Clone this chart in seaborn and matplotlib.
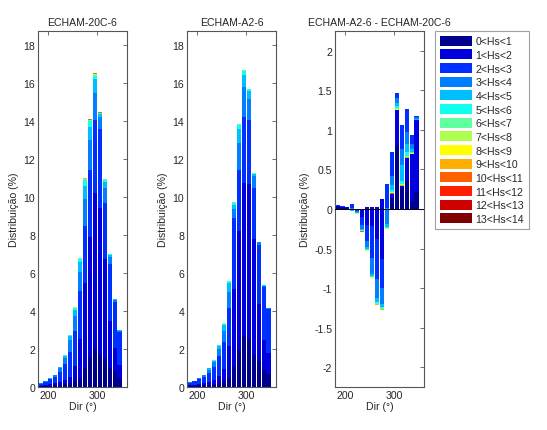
import numpy as np
import pandas as pd
import matplotlib
matplotlib.use("Agg")
import matplotlib.pyplot as plt
from matplotlib.patches import Patch
from matplotlib.ticker import FuncFormatter
import seaborn as sns

# ---------------- data ----------------
dirs = [185, 195, 205, 215, 225, 235, 245, 255, 265, 275, 285, 295, 305, 315, 325, 335, 345]
class_labels = ["0<Hs<1", "1<Hs<2", "2<Hs<3", "3<Hs<4", "4<Hs<5", "5<Hs<6", "6<Hs<7",
                "7<Hs<8", "8<Hs<9", "9<Hs<10", "10<Hs<11", "11<Hs<12", "12<Hs<13", "13<Hs<14"]
titles = ["ECHAM-20C-6", "ECHAM-A2-6", "ECHAM-A2-6 - ECHAM-20C-6"]

# distribution (%) per Hs class (rows) and direction bin (columns)
dist_20c = [
    [0.03, 0.05, 0.07, 0.10, 0.12, 0.15, 0.20, 0.30, 0.45, 1.00, 1.60, 2.00, 1.70, 1.45, 1.00, 0.85, 0.45],
    [0.04, 0.05, 0.07, 0.10, 0.16, 0.20, 0.35, 0.80, 2.10, 4.50, 6.30, 8.20, 7.70, 5.30, 2.50, 1.20, 0.70],
    [0.11, 0.17, 0.26, 0.35, 0.52, 0.85, 1.30, 1.85, 2.50, 3.00, 3.50, 3.85, 4.20, 2.95, 2.95, 2.40, 1.75],
    [0.015, 0.025, 0.04, 0.07, 0.18, 0.35, 0.65, 0.80, 1.00, 1.40, 1.60, 1.45, 0.60, 0.75, 0.40, 0.15, 0.07],
    [0.005, 0.005, 0.01, 0.025, 0.05, 0.10, 0.18, 0.30, 0.55, 0.70, 0.70, 0.70, 0.18, 0.35, 0.10, 0.03, 0.02],
    [0.0, 0.0, 0.0, 0.005, 0.015, 0.03, 0.04, 0.10, 0.14, 0.30, 0.28, 0.18, 0.04, 0.10, 0.03, 0.01, 0.01],
    [0.0, 0.0, 0.0, 0.0, 0.003, 0.01, 0.015, 0.025, 0.03, 0.04, 0.05, 0.05, 0.015, 0.025, 0.01, 0.005, 0.0],
    [0.0, 0.0, 0.0, 0.0, 0.002, 0.005, 0.008, 0.012, 0.015, 0.02, 0.025, 0.03, 0.008, 0.012, 0.005, 0.003, 0.0],
    [0.0, 0.0, 0.0, 0.0, 0.0, 0.003, 0.004, 0.006, 0.008, 0.015, 0.015, 0.02, 0.004, 0.006, 0.003, 0.002, 0.0],
    [0.0, 0.0, 0.0, 0.0, 0.0, 0.002, 0.003, 0.004, 0.004, 0.01, 0.01, 0.015, 0.002, 0.004, 0.002, 0.0, 0.0],
    [0.0, 0.0, 0.0, 0.0, 0.0, 0.0, 0.0, 0.002, 0.002, 0.005, 0.006, 0.008, 0.001, 0.002, 0.0, 0.0, 0.0],
    [0.0, 0.0, 0.0, 0.0, 0.0, 0.0, 0.0, 0.001, 0.001, 0.003, 0.003, 0.004, 0.0, 0.001, 0.0, 0.0, 0.0],
    [0.0, 0.0, 0.0, 0.0, 0.0, 0.0, 0.0, 0.0, 0.0, 0.002, 0.002, 0.003, 0.0, 0.0, 0.0, 0.0, 0.0],
    [0.0, 0.0, 0.0, 0.0, 0.0, 0.0, 0.0, 0.0, 0.0, 0.001, 0.001, 0.002, 0.0, 0.0, 0.0, 0.0, 0.0],
]
dist_a2 = [
    [0.05, 0.06, 0.08, 0.10, 0.12, 0.15, 0.20, 0.30, 0.45, 1.10, 1.95, 2.70, 2.55, 1.70, 1.35, 0.90, 0.70],
    [0.04, 0.05, 0.06, 0.10, 0.14, 0.20, 0.38, 0.65, 1.70, 4.05, 6.25, 8.05, 8.15, 6.10, 3.00, 1.60, 1.10],
    [0.14, 0.19, 0.28, 0.35, 0.49, 0.70, 1.07, 1.40, 2.00, 3.75, 3.20, 3.45, 3.35, 2.65, 3.15, 2.75, 2.30],
    [0.018, 0.025, 0.06, 0.08, 0.17, 0.25, 0.35, 0.60, 0.85, 0.45, 1.45, 1.60, 1.10, 0.65, 0.12, 0.08, 0.04],
    [0.002, 0.005, 0.015, 0.015, 0.06, 0.08, 0.15, 0.30, 0.45, 0.25, 0.75, 0.65, 0.45, 0.10, 0.02, 0.02, 0.01],
    [0.0, 0.0, 0.005, 0.005, 0.015, 0.03, 0.05, 0.07, 0.11, 0.10, 0.20, 0.20, 0.08, 0.03, 0.01, 0.0, 0.0],
    [0.0, 0.0, 0.0, 0.0, 0.003, 0.005, 0.01, 0.015, 0.02, 0.025, 0.025, 0.025, 0.01, 0.01, 0.0, 0.0, 0.0],
    [0.0, 0.0, 0.0, 0.0, 0.002, 0.003, 0.005, 0.008, 0.01, 0.012, 0.012, 0.012, 0.005, 0.005, 0.0, 0.0, 0.0],
    [0.0, 0.0, 0.0, 0.0, 0.0, 0.002, 0.003, 0.004, 0.005, 0.006, 0.006, 0.006, 0.003, 0.003, 0.0, 0.0, 0.0],
    [0.0, 0.0, 0.0, 0.0, 0.0, 0.0, 0.002, 0.003, 0.003, 0.004, 0.004, 0.004, 0.002, 0.002, 0.0, 0.0, 0.0],
    [0.0, 0.0, 0.0, 0.0, 0.0, 0.0, 0.0, 0.0, 0.002, 0.002, 0.002, 0.002, 0.0, 0.0, 0.0, 0.0, 0.0],
    [0.0, 0.0, 0.0, 0.0, 0.0, 0.0, 0.0, 0.0, 0.0, 0.001, 0.001, 0.001, 0.0, 0.0, 0.0, 0.0, 0.0],
    [0.0, 0.0, 0.0, 0.0, 0.0, 0.0, 0.0, 0.0, 0.0, 0.0, 0.0, 0.0, 0.0, 0.0, 0.0, 0.0, 0.0],
    [0.0, 0.0, 0.0, 0.0, 0.0, 0.0, 0.0, 0.0, 0.0, 0.0, 0.0, 0.0, 0.0, 0.0, 0.0, 0.0, 0.0],
]
dist_diff = [
    [0.02, 0.01, 0.01, 0.01, 0.0, 0.0, 0.02, 0.03, 0.02, 0.13, 0.03, 0.14, 0.80, 0.28, 0.35, 0.10, 0.22],
    [0.02, 0.02, 0.02, 0.05, -0.01, -0.10, -0.22, -0.25, -0.40, -0.76, 0.28, 0.58, 0.67, 0.78, 0.92, 0.84, 0.96],
    [0.015, 0.005, 0.0, -0.05, -0.02, -0.10, -0.20, -0.40, -0.50, -0.37, -0.30, -0.30, -0.07, -0.30, -0.30, -0.12, -0.02],
    [0.0, 0.0, 0.0, -0.02, -0.01, -0.05, -0.08, -0.20, -0.25, -0.20, -0.20, -0.12, -0.06, -0.20, -0.15, -0.06, -0.02],
    [0.0, 0.0, 0.0, -0.01, -0.01, -0.015, -0.03, -0.03, -0.05, -0.04, -0.04, -0.06, -0.04, -0.20, -0.10, -0.04, -0.01],
    [0.0, 0.0, 0.0, 0.0, -0.003, -0.005, -0.005, -0.005, -0.01, -0.01, -0.01, -0.02, -0.02, -0.04, -0.05, -0.01, 0.0],
    [0.0, 0.0, 0.0, 0.0, -0.003, -0.005, -0.005, -0.005, -0.006, -0.008, -0.005, -0.008, -0.012, -0.008, -0.008, -0.004, 0.0],
    [0.0, 0.0, 0.0, 0.0, -0.002, -0.003, -0.003, -0.003, -0.004, -0.005, -0.003, -0.005, -0.006, -0.005, -0.005, -0.003, 0.0],
    [0.0, 0.0, 0.0, 0.0, -0.002, -0.003, -0.003, -0.003, -0.004, -0.005, -0.003, -0.005, -0.005, -0.005, -0.005, -0.002, 0.0],
    [0.0, 0.0, 0.0, 0.0, -0.002, -0.003, -0.003, -0.003, -0.004, -0.005, -0.003, -0.005, -0.005, -0.005, -0.005, -0.002, 0.0],
    [0.0, 0.0, 0.0, 0.0, -0.001, -0.002, -0.002, -0.002, -0.002, -0.003, -0.002, -0.003, -0.003, -0.003, -0.003, -0.001, 0.0],
    [0.0, 0.0, 0.0, 0.0, 0.0, -0.001, -0.001, -0.001, -0.001, -0.002, -0.001, -0.002, -0.002, -0.002, -0.002, 0.0, 0.0],
    [0.0, 0.0, 0.0, 0.0, 0.0, 0.0, 0.0, 0.0, 0.0, -0.001, 0.0, -0.001, -0.001, -0.001, -0.001, 0.0, 0.0],
    [0.0, 0.0, 0.0, 0.0, 0.0, 0.0, 0.0, 0.0, 0.0, 0.0, 0.0, 0.0, 0.0, 0.0, 0.0, 0.0, 0.0],
]

# ---------------- style ----------------
sns.set_style("white")
plt.rcParams["font.family"] = ["Liberation Sans", "DejaVu Sans"]
plt.rcParams["font.size"] = 7.6
FS = 7.6
spine_col = "#555555"

# colours as shown in the legend (MATLAB jet(64) sampled at 14 levels)
colors = [(0.0, 0.0, 0.5625), (0.0, 0.0, 0.875), (0.0, 0.1875, 1.0), (0.0, 0.5, 1.0),
          (0.0, 0.75, 1.0), (0.0625, 1.0, 0.9375), (0.375, 1.0, 0.625), (0.6875, 1.0, 0.3125),
          (1.0, 1.0, 0.0), (1.0, 0.6875, 0.0), (1.0, 0.375, 0.0), (1.0, 0.125, 0.0),
          (0.8125, 0.0, 0.0), (0.5, 0.0, 0.0)]

fig = plt.figure(figsize=(5.47, 4.31), dpi=100)
W, H = 547.0, 431.0
ax_lefts = [38, 187, 335]
axes = [fig.add_axes([l / W, (H - 388) / H, 89 / W, 356 / H]) for l in ax_lefts]


def draw_stack(ax, rows):
    cum = np.zeros(len(dirs))
    for k, row in enumerate(rows):
        vals = np.asarray(row, dtype=float)
        df = pd.DataFrame({"dir": dirs, "val": vals})
        sns.barplot(data=df, x="dir", y="val", native_scale=True, color=colors[k],
                    saturation=1, width=0.85, errorbar=None, bottom=cum.copy(),
                    linewidth=0, ax=ax)
        cum = cum + vals


fmt = FuncFormatter(lambda v, p: "%g" % v)
for i, (ax, data) in enumerate(zip(axes, [dist_20c, dist_a2, dist_diff])):
    draw_stack(ax, data)
    ax.set_xlim(180, 360)
    ax.set_xticks([200, 300])
    if i < 2:
        ax.set_ylim(0, 18.74)
        ax.set_yticks(np.arange(0, 19, 2))
    else:
        ax.set_ylim(-2.25, 2.25)
        ax.set_yticks(np.arange(-2, 2.01, 0.5))
        ax.axhline(0, color="black", lw=0.7, zorder=5)
    ax.yaxis.set_major_formatter(fmt)
    ax.set_title(titles[i], fontsize=FS, pad=4)
    ax.set_xlabel("Dir (°)", fontsize=FS, labelpad=1)
    ax.set_ylabel("Distribuição (%)", fontsize=FS, labelpad=3)
    ax.tick_params(direction="in", top=True, right=True, length=3, width=0.6,
                   labelsize=FS, pad=2, color=spine_col)
    for s in ax.spines.values():
        s.set_color(spine_col)
        s.set_linewidth(0.8)
        s.set_visible(True)

handles = [Patch(facecolor=c, edgecolor="none") for c in colors]
leg = fig.legend(handles, class_labels, loc="upper left",
                 bbox_to_anchor=(435 / W, 1 - 32 / H), borderaxespad=0,
                 fontsize=FS, frameon=True, fancybox=False, handlelength=3.1,
                 handleheight=1.05, labelspacing=0.3, handletextpad=0.3,
                 borderpad=0.45)
leg.get_frame().set_edgecolor("#888888")
leg.get_frame().set_linewidth(0.8)

fig.savefig("out.png", dpi=100)
